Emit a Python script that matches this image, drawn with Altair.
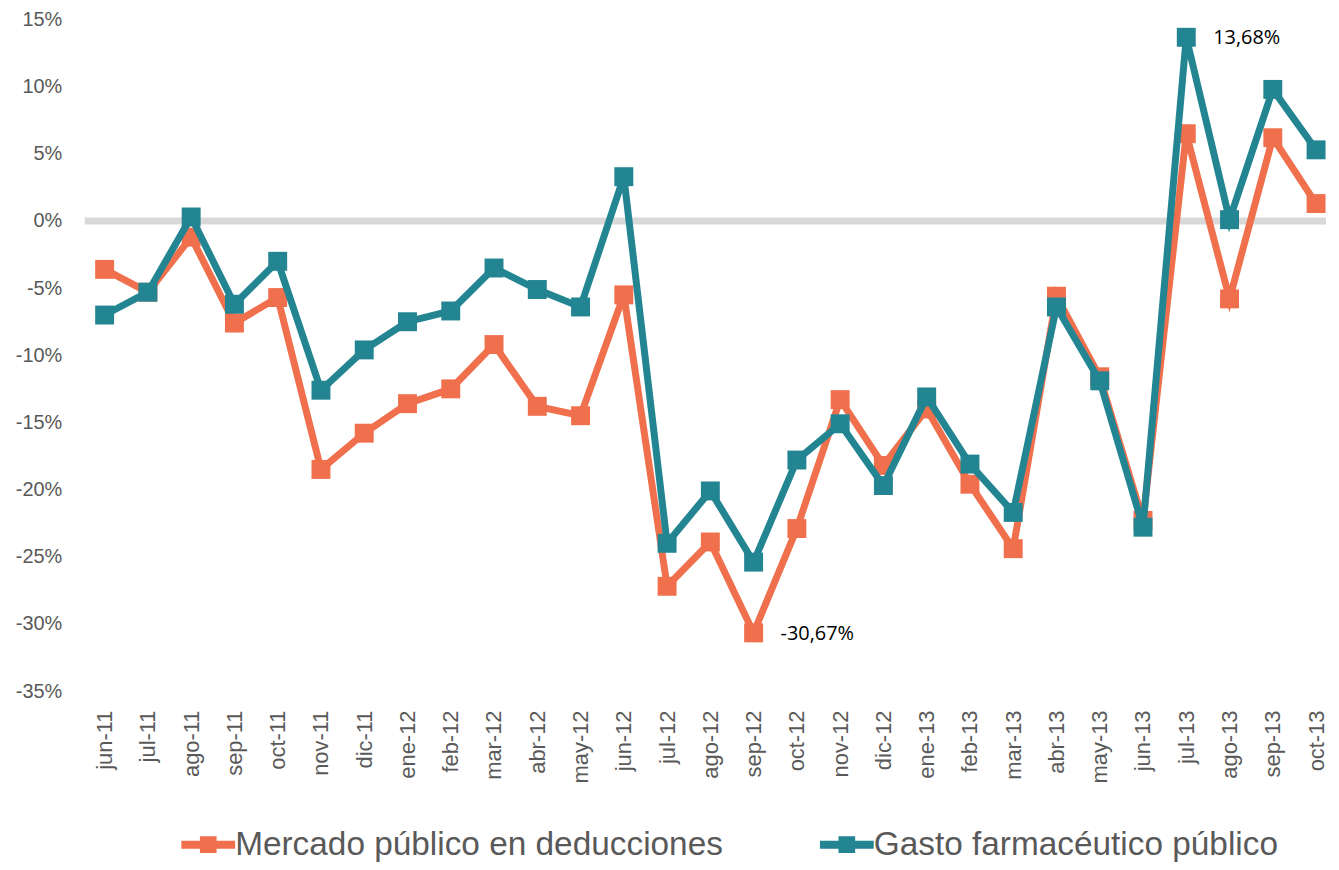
import json
import altair as alt
import pandas as pd

months = ["jun-11", "jul-11", "ago-11", "sep-11", "oct-11", "nov-11", "dic-11",
          "ene-12", "feb-12", "mar-12", "abr-12", "may-12", "jun-12", "jul-12",
          "ago-12", "sep-12", "oct-12", "nov-12", "dic-12", "ene-13", "feb-13",
          "mar-13", "abr-13", "may-13", "jun-13", "jul-13", "ago-13", "sep-13", "oct-13"]

mercado = [-3.6, -5.3, -1.2, -7.6, -5.7, -18.5, -15.8, -13.6, -12.5, -9.2, -13.8, -14.5,
           -5.5, -27.2, -23.9, -30.67, -22.9, -13.3, -18.2, -14.0, -19.6, -24.4, -5.6,
           -11.6, -22.3, 6.5, -5.8, 6.2, 1.3]

gasto = [-7.0, -5.3, 0.3, -6.2, -3.0, -12.6, -9.6, -7.5, -6.7, -3.5, -5.1, -6.4,
         3.3, -24.0, -20.1, -25.4, -17.8, -15.1, -19.7, -13.1, -18.1, -21.7, -6.4,
         -11.9, -22.8, 13.68, 0.1, 9.8, 5.3]

series_names = ["Mercado público en deducciones", "Gasto farmacéutico público"]
series_colors = ["#F0704D", "#238492"]

annot_series = ["Mercado público en deducciones", "Gasto farmacéutico público"]
annot_month = ["sep-12", "jul-13"]
annot_text = ["-30,67%", "13,68%"]

rows = []
for name, vals in zip(series_names, [mercado, gasto]):
    for i, (m, v) in enumerate(zip(months, vals)):
        rows.append({"idx": i, "month": m, "series": name, "value": v})
df = pd.DataFrame(rows)

ann_rows = []
for s, m, t in zip(annot_series, annot_month, annot_text):
    i = months.index(m)
    v = (mercado if s == series_names[0] else gasto)[i]
    ann_rows.append({"idx": i, "value": v, "text": t})
ann = pd.DataFrame(ann_rows)

zero = pd.DataFrame({"value": [0]})

x_scale = alt.Scale(domain=[-0.4605, 28.23], nice=False, zero=False)
y_scale = alt.Scale(domain=[-35, 15], nice=False)

x_axis = alt.Axis(values=list(range(len(months))),
                  labelExpr=json.dumps(months) + "[datum.value]",
                  labelAngle=270, labelFontSize=22, labelColor="#595959",
                  labelFont="Liberation Sans", labelPadding=19, ticks=False,
                  domain=False, grid=False, title=None, labelOverlap=False)
y_axis = alt.Axis(values=list(range(-35, 16, 5)), labelExpr="datum.value + '%'",
                  labelFontSize=20, labelColor="#595959", labelFont="Liberation Sans",
                  labelPadding=23, ticks=False, domain=False, grid=False, title=None)

base = alt.Chart(df)

zero_rule = alt.Chart(zero).mark_rule(color="#D9D9D9", strokeWidth=7).encode(
    y=alt.Y("value:Q", scale=y_scale, axis=y_axis)
)

symbol_path = "M-1,-0.15H-0.31V-0.31H0.31V-0.15H1V0.15H0.31V0.31H-0.31V0.15H-1Z"
legend = alt.Legend(title=None, orient="none", legendX=97, legendY=801,
                    direction="horizontal", symbolType=symbol_path, symbolSize=2916,
                    symbolStrokeWidth=0, labelFontSize=33.5, labelColor="#595959",
                    labelFont="Liberation Sans", labelOffset=0, columnPadding=97,
                    padding=0, labelLimit=1000)

color_enc = alt.Color("series:N", scale=alt.Scale(domain=series_names, range=series_colors),
                      legend=legend)

layers = [zero_rule]
for name, col in zip(series_names, series_colors):
    line = base.transform_filter(alt.datum.series == name).mark_line(
        color=col, strokeWidth=7, strokeJoin="miter").encode(
        x=alt.X("idx:Q", scale=x_scale, axis=x_axis),
        y=alt.Y("value:Q", scale=y_scale, axis=y_axis),
    )
    pts = base.transform_filter(alt.datum.series == name).mark_point(
        shape="square", filled=True, size=361, opacity=1).encode(
        x=alt.X("idx:Q", scale=x_scale, axis=x_axis),
        y=alt.Y("value:Q", scale=y_scale, axis=y_axis),
        color=color_enc,
    )
    layers += [line, pts]

text = alt.Chart(ann).mark_text(align="left", baseline="middle", dx=27, dy=1,
                                font="Open Sans", fontSize=20, color="#000000").encode(
    x=alt.X("idx:Q", scale=x_scale, axis=x_axis),
    y=alt.Y("value:Q", scale=y_scale, axis=y_axis),
    text="text:N",
)
layers.append(text)

chart = alt.layer(*layers).properties(
    width=1246, height=674,
    padding={"left": 7, "top": 0, "right": 0, "bottom": 0},
).configure_view(stroke=None)

chart.save("out.html", embed_options={"renderer": "svg", "actions": False})
